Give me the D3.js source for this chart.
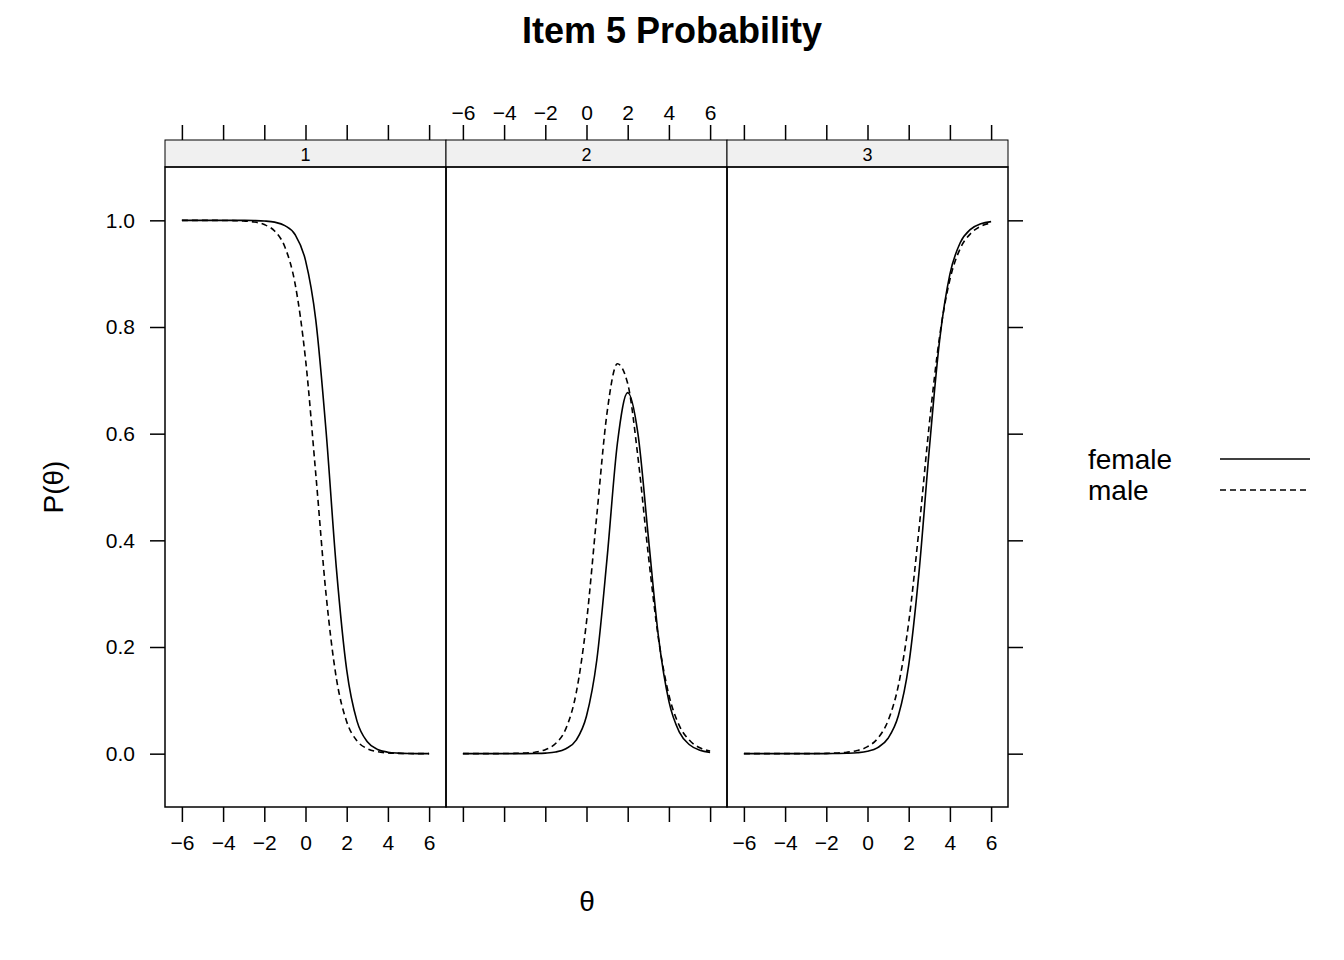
<!DOCTYPE html>
<html>
<head>
<meta charset="utf-8">
<script src="https://cdn.jsdelivr.net/npm/d3@7"></script>
<style>
  body { margin: 0; background: white; }
  text { font-family: "Liberation Sans", Arial, sans-serif; }
</style>
</head>
<body>
<div id="chart"></div>
<script>
// theta grid
let theta = [-6, -5.5, -5, -4.5, -4, -3.5, -3, -2.5, -2, -1.5, -1, -0.5, 0,
             0.5, 1, 1.5, 2, 2.5, 3, 3.5, 4, 4.5, 5, 5.5, 6];
let categories = ["1", "2", "3"];
let groups = ["female", "male"];

let female1 = [1, 1, 1, 1, 1, 1, 0.9999, 0.9996, 0.9988, 0.9966, 0.990, 0.973, 0.925,
               0.813, 0.604, 0.347, 0.157, 0.061, 0.0223, 0.0079, 0.0028, 0.0010, 0.0003, 0.0001, 0];
let female2 = [0, 0, 0, 0, 0, 0, 0.0001, 0.0004, 0.0011, 0.0031, 0.0093, 0.0253, 0.0706,
               0.1756, 0.367, 0.582, 0.677, 0.599, 0.407, 0.217, 0.098, 0.041, 0.0167, 0.0064, 0.0025];
let female3 = [0, 0, 0, 0, 0, 0, 0, 0, 0.0001, 0.0003, 0.0007, 0.0017, 0.0044,
               0.0114, 0.0289, 0.0714, 0.166, 0.340, 0.571, 0.775, 0.899, 0.958, 0.983, 0.9935, 0.9975];
let male1 = [1, 1, 1, 0.9999, 0.9998, 0.9995, 0.9988, 0.997, 0.992, 0.980, 0.950, 0.880, 0.740,
             0.524, 0.298, 0.141, 0.060, 0.024, 0.0094, 0.0037, 0.0014, 0.0005, 0.0002, 0.0001, 0];
let male2 = [0, 0, 0, 0.0001, 0.0002, 0.0005, 0.0011, 0.0028, 0.0075, 0.019, 0.047, 0.114, 0.247,
             0.447, 0.640, 0.731, 0.694, 0.555, 0.373, 0.214, 0.110, 0.053, 0.025, 0.011, 0.005];
let male3 = [0, 0, 0, 0, 0, 0, 0.0001, 0.0002, 0.0005, 0.0012, 0.0027, 0.0059, 0.0131,
             0.0288, 0.062, 0.128, 0.246, 0.421, 0.618, 0.782, 0.889, 0.947, 0.975, 0.989, 0.995];

let xTicks = [-6, -4, -2, 0, 2, 4, 6];
let yTicks = [0, 0.2, 0.4, 0.6, 0.8, 1.0];

let series = {
    female: [female1, female2, female3],
    male: [male1, male2, male3]
};
let dash = { female: null, male: "6,4" };

let width = 1344, height = 960;
let panelW = 281, pLeft = 165, pTop = 167, pBottom = 807, stripH = 27;

let svg = d3.select("#chart").append("svg")
    .attr("width", width).attr("height", height);

let x = d3.scaleLinear().domain([-6.82, 6.82]).range([0, panelW]);
let y = d3.scaleLinear().domain([-0.1, 1.1]).range([pBottom, pTop]);

let line = d3.line()
    .curve(d3.curveMonotoneX)
    .x(d => x(d[0]))
    .y(d => y(d[1]));

categories.forEach((cat, i) => {
    let g = svg.append("g").attr("transform", `translate(${pLeft + i * panelW},0)`);

    // strip
    g.append("rect").attr("x", 0).attr("y", pTop - stripH).attr("width", panelW).attr("height", stripH)
        .attr("fill", "#f0f0f0").attr("stroke", "black");
    g.append("text").attr("x", panelW / 2).attr("y", pTop - 6).attr("text-anchor", "middle")
        .attr("font-size", 18).text(cat);

    g.append("rect").attr("x", 0).attr("y", pTop).attr("width", panelW).attr("height", pBottom - pTop)
        .attr("fill", "none").attr("stroke", "black").attr("stroke-width", 1.5);

    // top and bottom axes: labels alternate
    let topAx = g.append("g").attr("transform", `translate(0,${pTop - stripH})`)
        .call(d3.axisTop(x).tickValues(xTicks).tickSize(15).tickFormat(i === 1 ? d3.format("d") : ""));
    let botAx = g.append("g").attr("transform", `translate(0,${pBottom})`)
        .call(d3.axisBottom(x).tickValues(xTicks).tickSize(15).tickFormat(i !== 1 ? d3.format("d") : ""));
    [topAx, botAx].forEach(a => {
        a.select(".domain").remove();
        a.selectAll(".tick line").attr("stroke-width", 1.5);
        a.selectAll("text").attr("font-size", 21).attr("fill", "black")
            .attr("font-family", "Liberation Sans, Arial, sans-serif");
    });
    topAx.selectAll("text").attr("y", -20);
    botAx.selectAll("text").attr("y", 28);

    groups.forEach(gr => {
        g.append("path")
            .datum(theta.map((t, k) => [t, series[gr][i][k]]))
            .attr("fill", "none").attr("stroke", "black").attr("stroke-width", 1.6)
            .attr("stroke-dasharray", dash[gr])
            .attr("d", line);
    });
});

// y axes
let yl = svg.append("g").attr("transform", `translate(${pLeft},0)`)
    .call(d3.axisLeft(y).tickValues(yTicks).tickSize(15).tickFormat(d3.format(".1f")));
let yr = svg.append("g").attr("transform", `translate(${pLeft + 3 * panelW},0)`)
    .call(d3.axisRight(y).tickValues(yTicks).tickSize(15).tickFormat(""));
[yl, yr].forEach(a => {
    a.select(".domain").remove();
    a.selectAll(".tick line").attr("stroke-width", 1.5);
    a.selectAll("text").attr("font-size", 21).attr("fill", "black")
        .attr("font-family", "Liberation Sans, Arial, sans-serif");
});
yl.selectAll("text").attr("x", -30);

// titles
svg.append("text").attr("x", 672).attr("y", 43).attr("text-anchor", "middle")
    .attr("font-size", 36).attr("font-weight", "bold").text("Item 5 Probability");
svg.append("text").attr("x", 587).attr("y", 911).attr("text-anchor", "middle")
    .attr("font-size", 28).text("θ");
svg.append("text").attr("transform", "translate(63,487) rotate(-90)").attr("text-anchor", "middle")
    .attr("font-size", 28).text("P(θ)");

// legend
groups.forEach((gr, k) => {
    let yy = 459 + k * 31;
    svg.append("text").attr("x", 1088).attr("y", yy + 10).attr("font-size", 28).text(gr);
    svg.append("line").attr("x1", 1220).attr("x2", 1310).attr("y1", yy).attr("y2", yy)
        .attr("stroke", "black").attr("stroke-width", 1.6).attr("stroke-dasharray", dash[gr]);
});
</script>
</body>
</html>
